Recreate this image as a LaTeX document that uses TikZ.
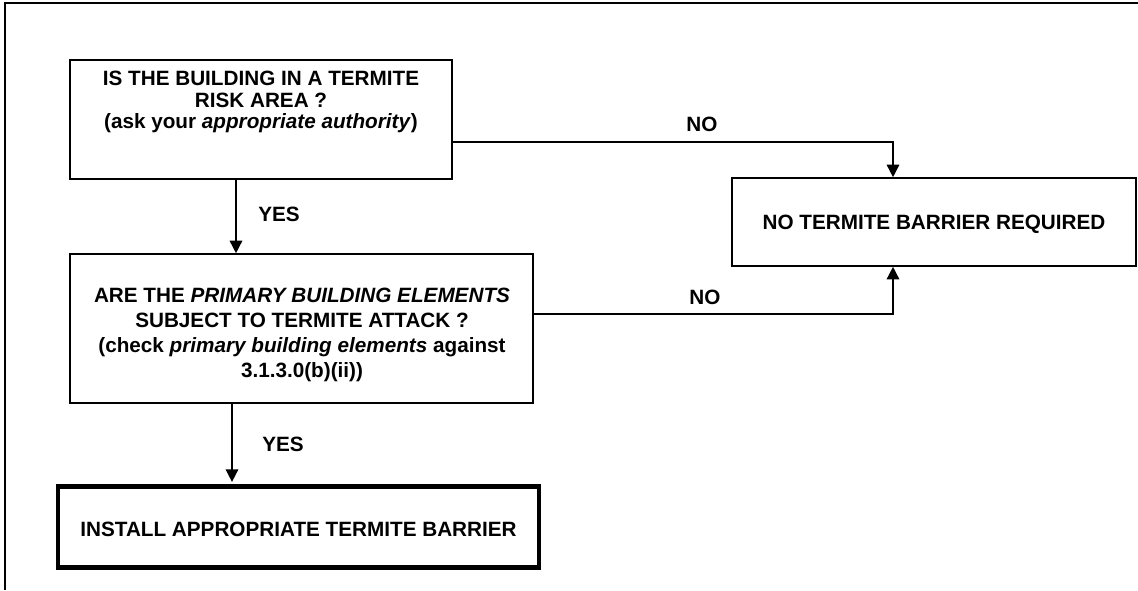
\documentclass[tikz,border=0pt]{standalone}
\usepackage{fontspec}
\setmainfont{Liberation Sans}
\usetikzlibrary{arrows.meta}
\begin{document}
\begin{tikzpicture}[x=1pt,y=-1pt,
  boxst/.style={draw,line width=1.6pt,inner sep=0pt},
  thickbox/.style={draw,line width=4.8pt,inner sep=0pt},
  txt/.style={inner sep=0pt,align=center,font=\fontsize{20.7}{21.7}\selectfont\bfseries},
  txtb/.style={inner sep=0pt,align=center,font=\fontsize{20.7}{25}\selectfont\bfseries},
  lbl/.style={inner sep=0pt,anchor=base,font=\fontsize{20.7}{22}\selectfont\bfseries},
  arr/.style={line width=1.5pt,-{Triangle[length=12.5pt,width=12.5pt]}}]
\useasboundingbox (0,0) rectangle (1138,590);
% frame
\draw[line width=1.8pt] (5,590) -- (5,3) -- (1138,3);
% boxes
\node[boxst,minimum width=382pt,minimum height=119pt] (b1) at (261,119.5) {};
\node[boxst,minimum width=463pt,minimum height=149pt] (b2) at (301.5,328.5) {};
\node[boxst,minimum width=404pt,minimum height=88pt] (b3) at (934,222) {};
\node[thickbox,minimum width=481pt,minimum height=81pt] (b4) at (298.5,527) {};
% texts
\node[txt,anchor=north] (b1t) at (261,70.9) {IS THE BUILDING IN A TERMITE\\RISK AREA ?\\(ask your \textit{appropriate authority})};
\node[txtb,anchor=north] (b2t) at (302,288) {ARE THE \textit{PRIMARY BUILDING ELEMENTS}\\SUBJECT TO TERMITE ATTACK ?\\(check \textit{primary building elements} against\\3.1.3.0(b)(ii))};
\node[lbl] (b3t) at (934,229.5) {NO TERMITE BARRIER REQUIRED};
\node[lbl] (b4t) at (298.5,536.5) {INSTALL APPROPRIATE TERMITE BARRIER};
% helper coordinates
\coordinate (c1) at (236,0);
\coordinate (c2) at (232,0);
\coordinate (c3) at (0,142);
\coordinate (c4) at (893,0);
\coordinate (c5) at (0,314);
% connectors
\draw[arr] (b1.south -| c1) -- (b2.north -| c1);
\draw[arr,shorten >=2.2pt] (b2.south -| c2) -- (b4.north -| c2);
\draw[arr] (b1.east |- c3) -| (b3.north -| c4);
\draw[arr] (b2.east |- c5) -| (b3.south -| c4);
% labels
\node[lbl] (yes1) at (279,221.7) {YES};
\node[lbl] (yes2) at (283,451.5) {YES};
\node[lbl] (no1) at (702,131.7) {NO};
\node[lbl] (no2) at (705,304) {NO};
\end{tikzpicture}
\end{document}
